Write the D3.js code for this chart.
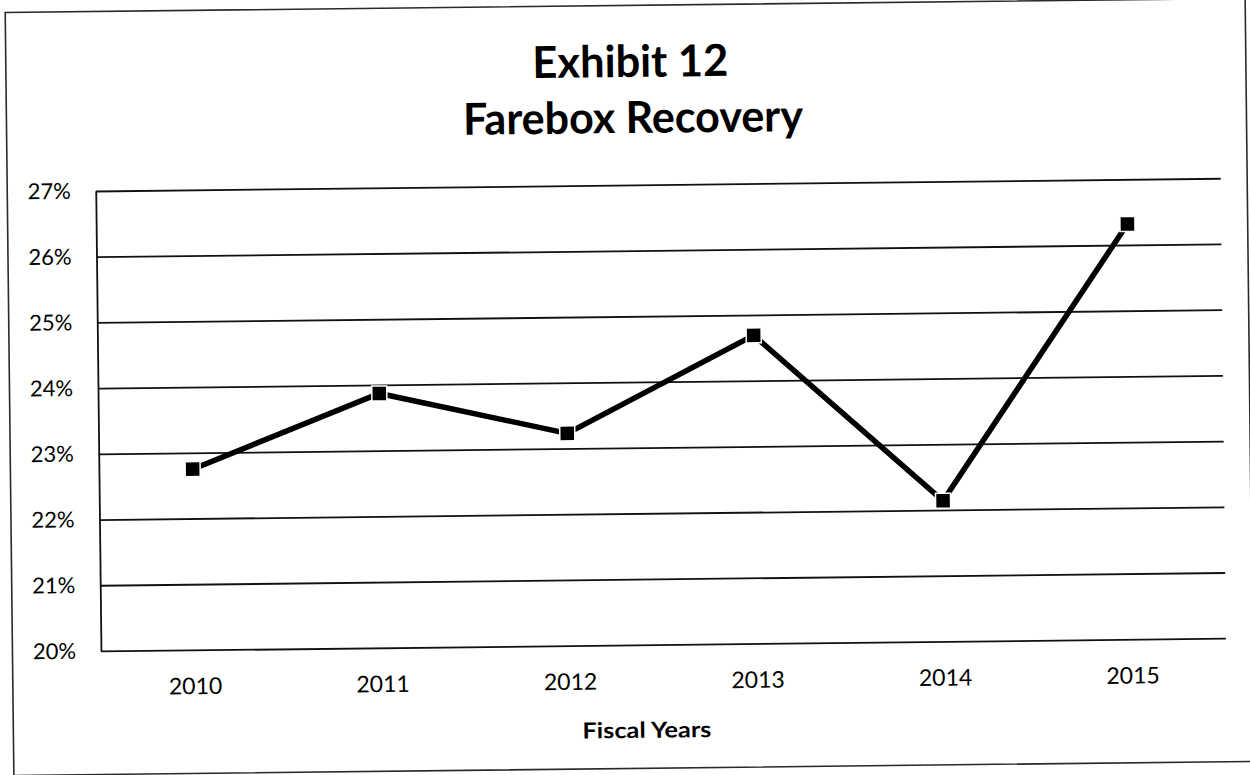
<!DOCTYPE html>
<html>
<head>
<meta charset="utf-8">
<script src="https://cdn.jsdelivr.net/npm/d3@7"></script>
<style>
  body { margin: 0; background: #fff; }
  svg { display: block; }
</style>
</head>
<body>
<svg id="chart" width="1250" height="775"></svg>
<script>
// Farebox recovery ratio by fiscal year (percent)
const years = ["2010", "2011", "2012", "2013", "2014", "2015"];
const recovery = [22.75, 23.87, 23.23, 24.69, 22.14, 26.32];
const yTicks = [20, 21, 22, 23, 24, 25, 26, 27];
const titleLines = ["Exhibit 12", "Farebox Recovery"];
const xAxisTitle = "Fiscal Years";

const W = 1250, H = 775;
const FONT = "Lato, 'Open Sans', 'DejaVu Sans', sans-serif";

const svg = d3.select("#chart");
svg.append("rect").attr("width", W).attr("height", H).attr("fill", "#fff");

// whole exhibit sits slightly tilted on the page
const page = svg.append("g").attr("transform", "rotate(-0.65 625 387)");

// outer frame
page.append("rect")
  .attr("x", 9.5).attr("y", 5.5)
  .attr("width", 1240).attr("height", 763)
  .attr("fill", "none").attr("stroke", "#2a2a2a").attr("stroke-width", 1.6);

// titles
const titleSpecs = [
  { text: titleLines[0], x: 634, y: 77, len: 196 },
  { text: titleLines[1], x: 636, y: 133, len: 340 }
];
page.selectAll("text.title").data(titleSpecs).join("text")
  .attr("class", "title")
  .attr("x", d => d.x).attr("y", d => d.y)
  .attr("text-anchor", "middle")
  .attr("font-family", FONT).attr("font-weight", 700).attr("font-size", 44)
  .attr("textLength", d => d.len).attr("lengthAdjust", "spacingAndGlyphs")
  .attr("fill", "#000")
  .text(d => d.text);

const plot = { left: 98, right: 1223, top: 185, bottom: 645 };

const x = d3.scalePoint().domain(years).range([plot.left, plot.right]).padding(0.5);
const y = d3.scaleLinear().domain([20, 27]).range([plot.bottom, plot.top]);

// value axis with full-width gridlines
const yAxis = page.append("g")
  .attr("transform", `translate(${plot.left},0)`)
  .call(d3.axisLeft(y)
    .tickValues(yTicks)
    .tickFormat(d => d + "%")
    .tickSize(-(plot.right - plot.left))
    .tickSizeOuter(0)
    .tickPadding(25));
yAxis.select(".domain").attr("stroke", "#111").attr("stroke-width", 1.8);
yAxis.selectAll(".tick line").attr("stroke", "#111").attr("stroke-width", 1.8);
yAxis.selectAll(".tick text")
  .attr("font-family", FONT).attr("font-size", 22).attr("fill", "#000");

// category axis labels
const xAxis = page.append("g")
  .attr("transform", `translate(0,${plot.bottom})`)
  .call(d3.axisBottom(x).tickSize(0).tickPadding(28));
xAxis.select(".domain").remove();
xAxis.selectAll(".tick text")
  .attr("font-family", FONT).attr("font-size", 23).attr("fill", "#000");

// axis title
page.append("text")
  .attr("x", 643).attr("y", 738)
  .attr("text-anchor", "middle")
  .attr("font-family", FONT).attr("font-weight", 700).attr("font-size", 22)
  .attr("textLength", 129).attr("lengthAdjust", "spacingAndGlyphs")
  .attr("fill", "#000")
  .text(xAxisTitle);

// series line
const pts = years.map((yr, i) => ({ year: yr, value: recovery[i] }));
const line = d3.line().x(d => x(d.year)).y(d => y(d.value));
page.append("path")
  .datum(pts)
  .attr("d", line)
  .attr("fill", "none")
  .attr("stroke", "#000")
  .attr("stroke-width", 5.5)
  .attr("stroke-linejoin", "miter");

// square markers
const M = 15;
page.selectAll("rect.marker").data(pts).join("rect")
  .attr("class", "marker")
  .attr("x", d => x(d.year) - M / 2)
  .attr("y", d => y(d.value) - M / 2)
  .attr("width", M).attr("height", M)
  .attr("fill", "#000")
  .attr("stroke", "#fff").attr("stroke-width", 1.5);
</script>
</body>
</html>
